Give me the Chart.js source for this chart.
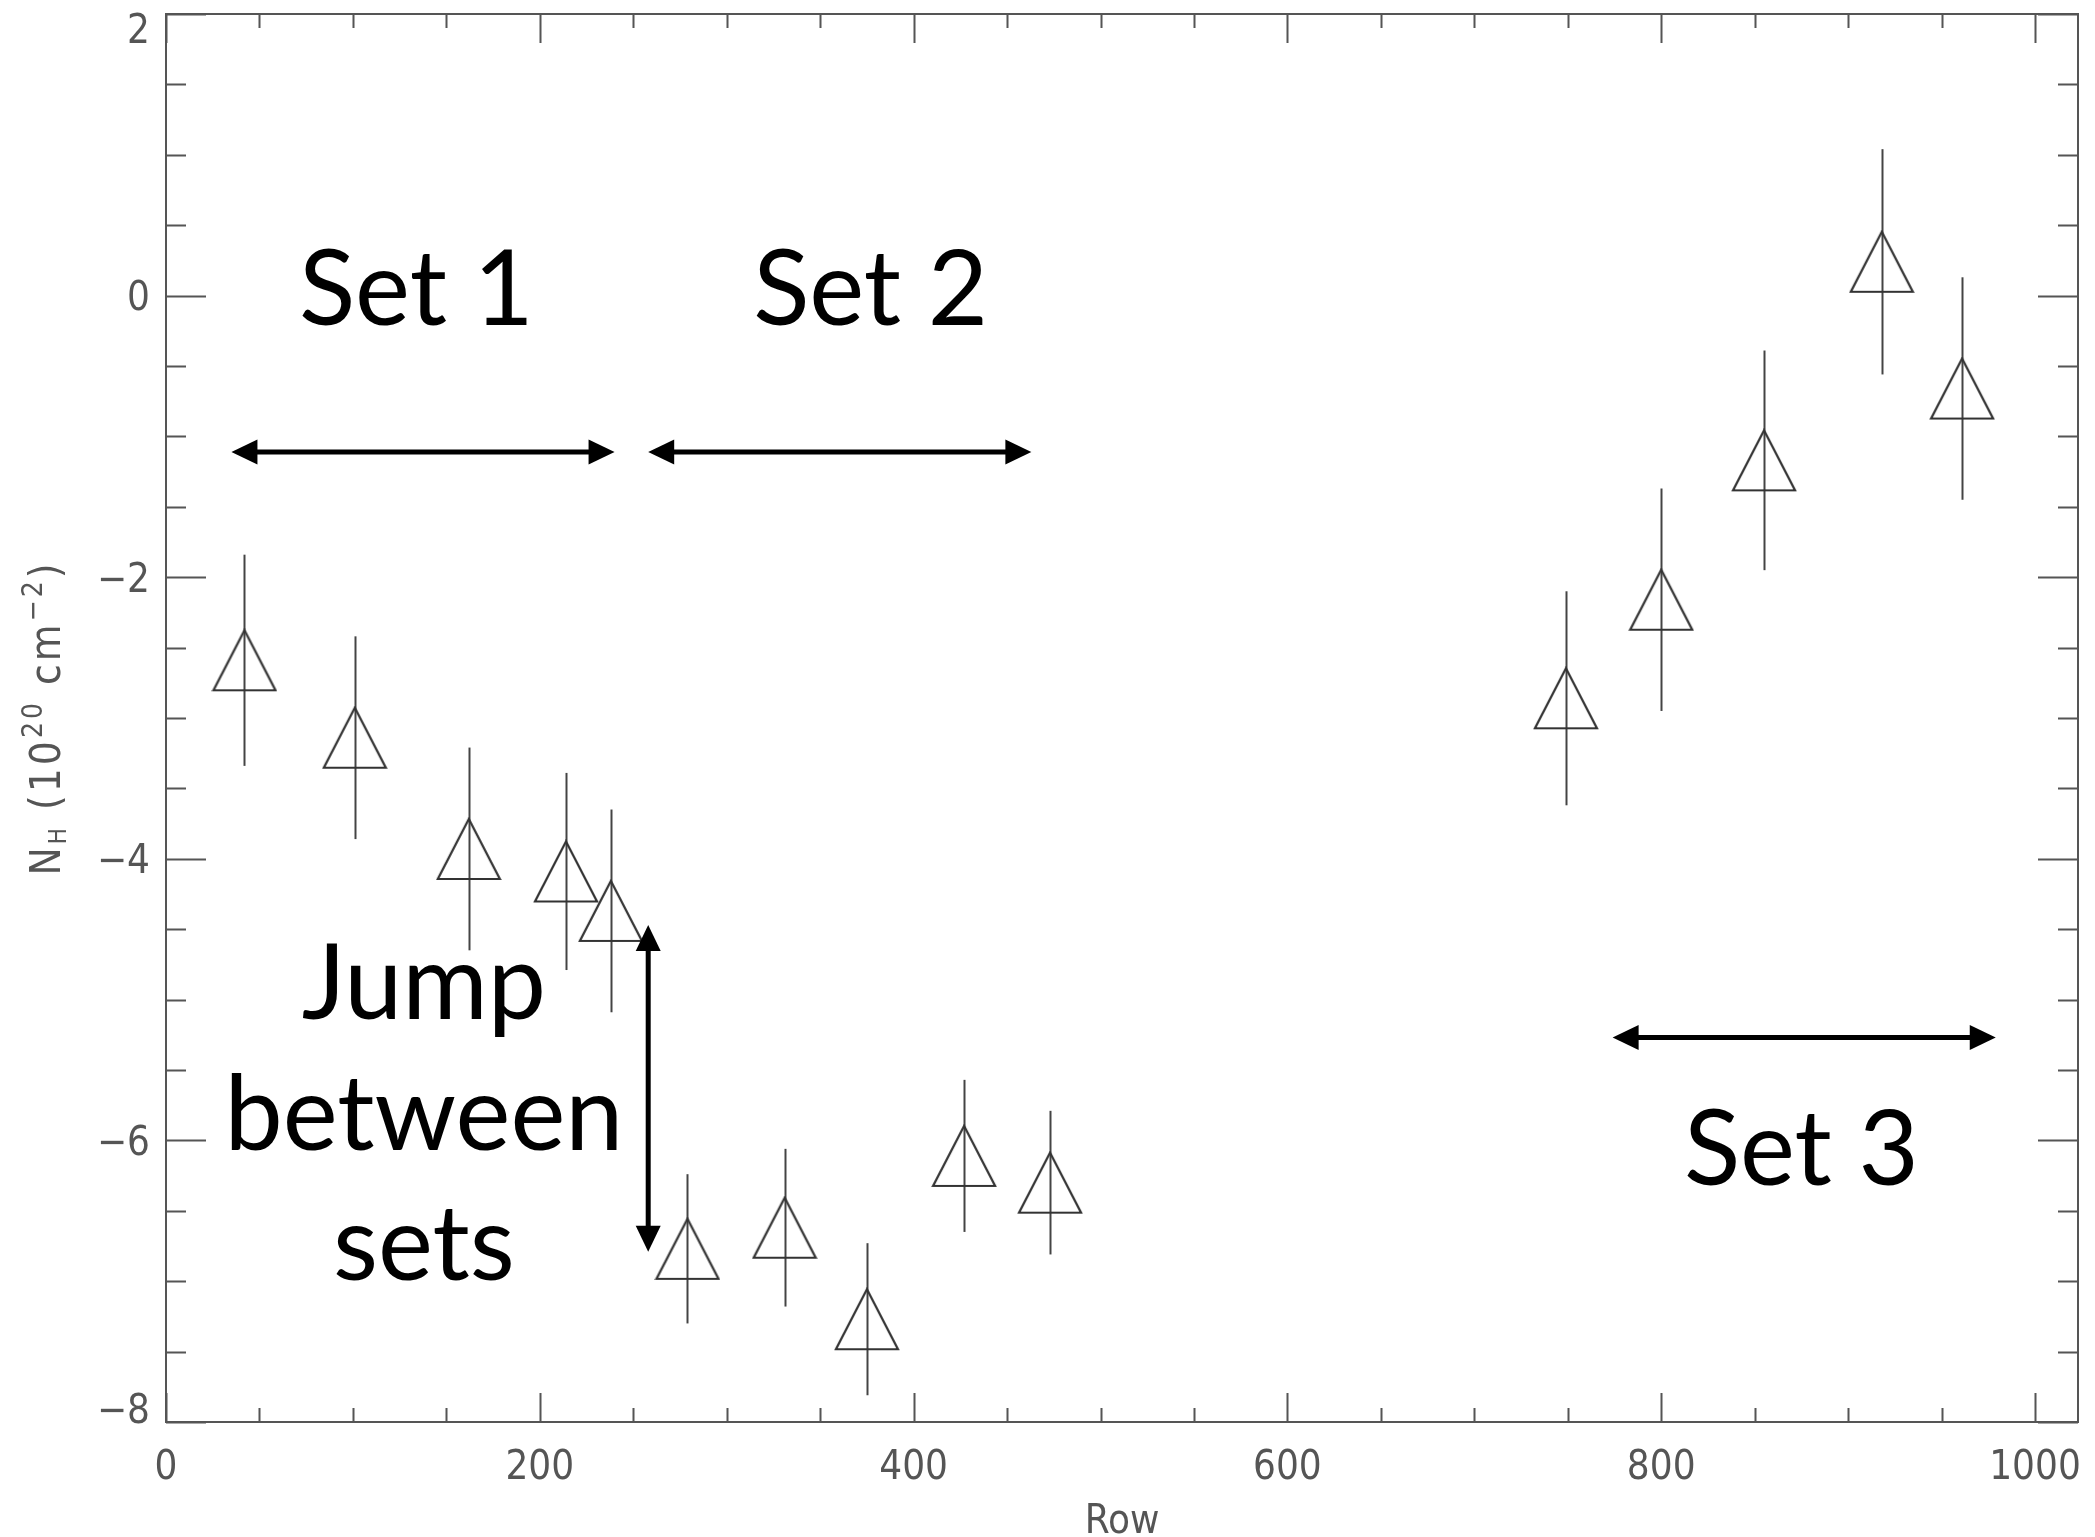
<!DOCTYPE html>
<html>
<head>
<meta charset="utf-8">
<title>N_H vs Row</title>
<script src="https://cdn.jsdelivr.net/npm/chart.js@4.4.1/dist/chart.umd.min.js"></script>
<style>
  html, body { margin: 0; padding: 0; background: #fff; }
  #wrap { width: 2095px; height: 1537px; }
</style>
</head>
<body>
<div id="wrap"><canvas id="nhChart" width="2095" height="1537"></canvas></div>
<script>
// fitted column density per detector row (three observation sets)
const rows  = [42, 101, 162, 214, 238, 279, 331, 375, 427, 473, 749, 800, 855, 918, 961];
const nh    = [-2.59, -3.14, -3.93, -4.09, -4.37, -6.77, -6.62, -7.27, -6.11, -6.30, -2.86, -2.16, -1.17, 0.24, -0.66];
const nhErr = [0.75, 0.72, 0.72, 0.70, 0.72, 0.53, 0.56, 0.54, 0.54, 0.51, 0.76, 0.79, 0.78, 0.80, 0.79];

const xTicks = [0, 200, 400, 600, 800, 1000];
const yTicks = [-8, -6, -4, -2, 0, 2];
const xRange = [0, 1023];
const yRange = [-8, 2];

// slide annotations, in data units
const noteLines = [
  { text: 'Set 1', x: 134, y: -0.21 },
  { text: 'Set 2', x: 377, y: -0.21 },
  { text: 'Set 3', x: 875, y: -6.32 },
  { text: 'Jump', x: 138, y: -5.14 },
  { text: 'between', x: 138, y: -6.07 },
  { text: 'sets', x: 138, y: -6.99 }
];
const noteArrows = [
  { x1: 35, y1: -1.11, x2: 240, y2: -1.11 },
  { x1: 258, y1: -1.11, x2: 463, y2: -1.11 },
  { x1: 774, y1: -5.27, x2: 979, y2: -5.27 },
  { x1: 258, y1: -4.47, x2: 258, y2: -6.79 }
];

const axisFont = '"Liberation Sans Narrow", "DejaVu Sans Condensed", "Liberation Sans", sans-serif';
const axisColor = '#555';
const noteFont = 'Lato, "Open Sans", sans-serif';

// open triangle symbol, same height and width
function makeTriangle() {
  const c = document.createElement('canvas');
  c.width = 66; c.height = 64;
  const g = c.getContext('2d');
  g.strokeStyle = '#333';
  g.lineWidth = 2.2;
  g.lineJoin = 'miter';
  g.beginPath();
  g.moveTo(33, 2);
  g.lineTo(64, 62);
  g.lineTo(2, 62);
  g.closePath();
  g.stroke();
  return c;
}

const errorBars = {
  id: 'errorBars',
  beforeDatasetsDraw(chart) {
    const ctx = chart.ctx, xs = chart.scales.x, ys = chart.scales.y;
    ctx.save();
    ctx.strokeStyle = '#444';
    ctx.lineWidth = 2;
    rows.forEach((r, i) => {
      const px = Math.round(xs.getPixelForValue(r)) + 0.5;
      ctx.beginPath();
      ctx.moveTo(px, ys.getPixelForValue(nh[i] + nhErr[i]));
      ctx.lineTo(px, ys.getPixelForValue(nh[i] - nhErr[i]));
      ctx.stroke();
    });
    ctx.restore();
  }
};

function arrowHead(ctx, x, y, ang) {
  const len = 26, half = 12.5;
  ctx.beginPath();
  ctx.moveTo(x, y);
  ctx.lineTo(x - len * Math.cos(ang) + half * Math.sin(ang), y - len * Math.sin(ang) - half * Math.cos(ang));
  ctx.lineTo(x - len * Math.cos(ang) - half * Math.sin(ang), y - len * Math.sin(ang) + half * Math.cos(ang));
  ctx.closePath();
  ctx.fill();
}

// box axes with inward ticks, y labels and axis titles
const frame = {
  id: 'frame',
  afterDraw(chart) {
    const ctx = chart.ctx, xs = chart.scales.x, ys = chart.scales.y;
    const { left, right, top, bottom } = chart.chartArea;
    ctx.save();
    ctx.strokeStyle = axisColor;
    ctx.lineWidth = 2;
    ctx.strokeRect(left, top, right - left, bottom - top);

    ctx.beginPath();
    for (let v = xRange[0]; v <= xRange[1]; v += 50) {
      const px = Math.round(xs.getPixelForValue(v)) + 0.5;
      const len = v % 200 === 0 ? 29 : 14;
      ctx.moveTo(px, bottom); ctx.lineTo(px, bottom - len);
      ctx.moveTo(px, top); ctx.lineTo(px, top + len);
    }
    for (let v = yRange[0]; v <= yRange[1]; v += 0.5) {
      const py = Math.round(ys.getPixelForValue(v)) + 0.5;
      const len = v % 2 === 0 ? 40 : 20;
      ctx.moveTo(left, py); ctx.lineTo(left + len, py);
      ctx.moveTo(right, py); ctx.lineTo(right - len, py);
    }
    ctx.stroke();

    // y tick labels, end labels kept inside the axis span
    ctx.fillStyle = axisColor;
    ctx.font = '40px ' + axisFont;
    ctx.textAlign = 'right';
    ctx.textBaseline = 'alphabetic';
    yTicks.forEach(v => {
      let py = ys.getPixelForValue(v);
      py = Math.min(Math.max(py, top + 14), bottom - 14);
      const lab = v < 0 ? '\u2212' + Math.abs(v) : String(v);
      ctx.fillText(lab, left - 16, py + 14.5);
    });

    // x title
    ctx.textAlign = 'center';
    ctx.fillText('Row', (left + right) / 2, 1533);

    // y title: N_H (10^20 cm^-2)
    const parts = [
      { t: 'N', s: 42, dy: 0 },
      { t: 'H', s: 24, dy: 6 },
      { t: ' (10', s: 42, dy: 0 },
      { t: '20', s: 28, dy: -18 },
      { t: ' cm', s: 42, dy: 0 },
      { t: '\u22122', s: 28, dy: -18 },
      { t: ')', s: 42, dy: 0 }
    ];
    ctx.letterSpacing = '3px';
    let total = 0;
    parts.forEach(p => { ctx.font = p.s + 'px ' + axisFont; p.w = ctx.measureText(p.t).width; total += p.w; });
    ctx.translate(60, (top + bottom) / 2);
    ctx.rotate(-Math.PI / 2);
    ctx.textAlign = 'left';
    let cx = -total / 2;
    parts.forEach(p => {
      ctx.font = p.s + 'px ' + axisFont;
      ctx.fillText(p.t, cx, p.dy);
      cx += p.w;
    });
    ctx.restore();

    // annotations
    ctx.save();
    ctx.fillStyle = '#000';
    ctx.strokeStyle = '#000';
    ctx.font = '104px ' + noteFont;
    ctx.textAlign = 'center';
    ctx.textBaseline = 'alphabetic';
    noteLines.forEach(n => ctx.fillText(n.text, xs.getPixelForValue(n.x), ys.getPixelForValue(n.y)));
    ctx.lineWidth = 5;
    noteArrows.forEach(a => {
      const x1 = xs.getPixelForValue(a.x1), y1 = ys.getPixelForValue(a.y1);
      const x2 = xs.getPixelForValue(a.x2), y2 = ys.getPixelForValue(a.y2);
      const ang = Math.atan2(y2 - y1, x2 - x1);
      ctx.beginPath();
      ctx.moveTo(x1 + 20 * Math.cos(ang), y1 + 20 * Math.sin(ang));
      ctx.lineTo(x2 - 20 * Math.cos(ang), y2 - 20 * Math.sin(ang));
      ctx.stroke();
      arrowHead(ctx, x2, y2, ang);
      arrowHead(ctx, x1, y1, ang + Math.PI);
    });
    ctx.restore();
  }
};

const ctx = document.getElementById('nhChart').getContext('2d');
const nhChart = new Chart(ctx, {
  type: 'scatter',
  data: {
    datasets: [{
      label: 'NH',
      data: rows.map((r, i) => ({ x: r, y: nh[i] })),
      pointStyle: makeTriangle(),
      pointRadius: 31,
      showLine: false
    }]
  },
  options: {
    responsive: false,
    animation: false,
    devicePixelRatio: 1,
    layout: { autoPadding: false, padding: { top: 14, right: 17, left: 0, bottom: 0 } },
    plugins: { legend: { display: false }, tooltip: { enabled: false } },
    scales: {
      x: {
        type: 'linear',
        min: xRange[0],
        max: xRange[1],
        grid: { display: false, drawTicks: false },
        border: { display: false },
        afterBuildTicks: s => { s.ticks = xTicks.map(v => ({ value: v })); },
        afterFit: s => { s.height = 115; s.paddingLeft = 0; s.paddingRight = 0; },
        ticks: {
          padding: 23,
          maxRotation: 0,
          color: axisColor,
          font: { family: axisFont, size: 40 },
          callback: v => String(v)
        }
      },
      y: {
        type: 'linear',
        min: yRange[0],
        max: yRange[1],
        grid: { display: false, drawTicks: false },
        border: { display: false },
        ticks: { display: false },
        afterFit: s => { s.width = 166; s.paddingTop = 0; s.paddingBottom = 0; }
      }
    }
  },
  plugins: [errorBars, frame]
});
</script>
</body>
</html>
